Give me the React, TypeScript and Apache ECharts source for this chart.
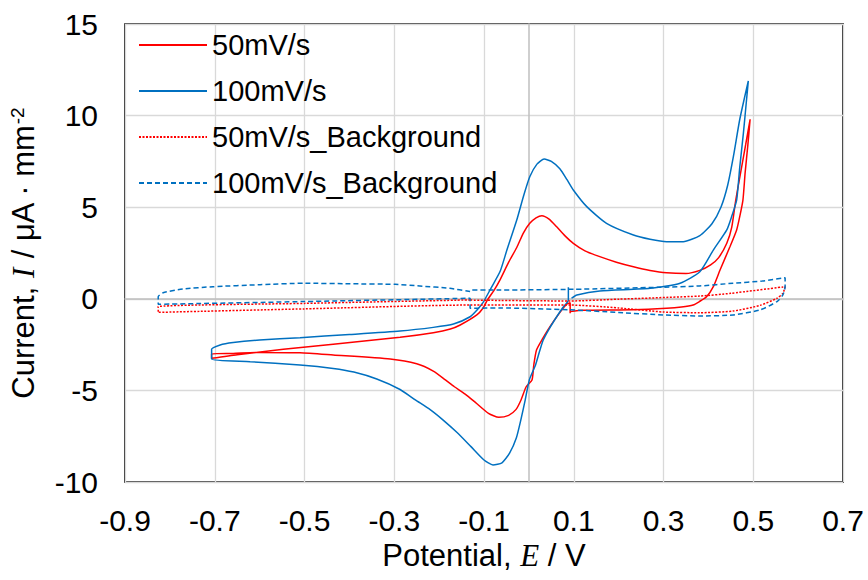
import React, { useEffect, useRef } from "react";
import * as echarts from "echarts";

const X_MIN = -0.9;
const X_MAX = 0.7;
const X_STEP = 0.2;
const Y_MIN = -10;
const Y_MAX = 15;
const Y_STEP = 5;

const seriesNames = ["50mV/s", "100mV/s", "50mV/s_Background", "100mV/s_Background"];

// 50 mV/s CV (potential V, current µA/mm²)
const cv50: [number, number][] = [
  [0.092, -0.79], [0.092, -0.22], [0.084, -0.3], [0.066, -0.85], [0.047, -1.52], [0.03, -2.2],
  [0.017, -2.79], [0.011, -3.6], [0.007, -4.43], [-0.006, -4.8], [-0.018, -5.55], [-0.029, -6.05],
  [-0.045, -6.36], [-0.067, -6.47], [-0.09, -6.25], [-0.117, -5.7], [-0.142, -5.2], [-0.166, -4.8],
  [-0.186, -4.43], [-0.213, -3.95], [-0.25, -3.55], [-0.309, -3.29], [-0.436, -3.07], [-0.51, -2.95],
  [-0.6, -2.93], [-0.659, -2.98], [-0.707, -3.01], [-0.707, -3.25], [-0.65, -3.05], [-0.547, -2.76],
  [-0.436, -2.48], [-0.287, -2.1], [-0.213, -1.85], [-0.175, -1.65], [-0.153, -1.43], [-0.116, -0.88],
  [-0.102, -0.5], [-0.092, -0.05], [-0.078, 0.45], [-0.064, 1.05], [-0.045, 2.0], [-0.027, 2.8],
  [-0.012, 3.6], [0.002, 4.12], [0.016, 4.42], [0.029, 4.54], [0.045, 4.35], [0.062, 3.93],
  [0.08, 3.45], [0.099, 3.03], [0.125, 2.62], [0.158, 2.3], [0.195, 2.0], [0.233, 1.75],
  [0.27, 1.55], [0.307, 1.42], [0.35, 1.38], [0.381, 1.55], [0.405, 1.85], [0.423, 2.25],
  [0.441, 3.03], [0.452, 3.9], [0.461, 5.39], [0.472, 6.9], [0.483, 8.4], [0.493, 9.8],
  [0.488, 8.4], [0.482, 6.9], [0.477, 5.39], [0.47, 4.5], [0.463, 3.76], [0.448, 2.84],
  [0.426, 1.57], [0.411, 0.66], [0.396, 0.11], [0.38, -0.15], [0.366, -0.34], [0.34, -0.45],
  [0.307, -0.52], [0.233, -0.6], [0.121, -0.63], [0.092, -0.7],
];

// 100 mV/s CV
const cv100: [number, number][] = [
  [0.088, 0.63], [0.088, -0.06], [0.075, -0.5], [0.062, -0.98], [0.045, -1.65], [0.032, -2.25],
  [0.024, -2.85], [0.015, -3.6], [0.001, -4.43], [-0.008, -5.5], [-0.018, -6.62], [-0.028, -7.6],
  [-0.043, -8.43], [-0.06, -8.95], [-0.08, -9.07], [-0.1, -8.8], [-0.129, -8.07], [-0.16, -7.3],
  [-0.191, -6.62], [-0.22, -6.05], [-0.253, -5.52], [-0.287, -4.95], [-0.339, -4.38],
  [-0.39, -4.0], [-0.436, -3.8], [-0.51, -3.61], [-0.621, -3.43], [-0.707, -3.29], [-0.707, -2.76],
  [-0.688, -2.52], [-0.659, -2.39], [-0.6, -2.25], [-0.51, -2.12], [-0.4, -1.95], [-0.287, -1.76],
  [-0.213, -1.56], [-0.168, -1.38], [-0.131, -0.98], [-0.115, -0.6], [-0.102, -0.2], [-0.084, 0.6],
  [-0.064, 1.5], [-0.049, 2.66], [-0.027, 4.3], [-0.012, 5.6], [0.002, 6.66], [0.018, 7.35],
  [0.034, 7.63], [0.05, 7.5], [0.069, 7.1], [0.085, 6.5], [0.099, 5.94], [0.129, 5.03],
  [0.173, 4.12], [0.233, 3.48], [0.27, 3.25], [0.307, 3.12], [0.344, 3.12], [0.381, 3.45],
  [0.408, 4.1], [0.428, 5.0], [0.443, 6.2], [0.456, 7.8], [0.47, 9.8], [0.489, 11.89],
  [0.485, 10.85], [0.478, 9.03], [0.47, 7.2], [0.463, 5.39], [0.452, 4.5], [0.441, 3.76],
  [0.411, 2.66], [0.381, 1.48], [0.337, 0.85], [0.27, 0.57], [0.158, 0.43], [0.107, 0.21],
  [0.095, 0.03],
];

// 50 mV/s background
const bg50: [number, number][] = [
  [-0.131, -0.06], [-0.5, -0.25], [-0.826, -0.43], [-0.826, -0.74], [-0.5, -0.55], [-0.131, -0.34],
  [0.092, -0.34], [0.2, -0.5], [0.299, -0.72], [0.38, -0.76], [0.455, -0.67], [0.515, -0.36],
  [0.553, 0.03], [0.566, 0.3], [0.571, 0.66], [0.45, 0.3], [0.381, 0.15], [0.2, -0.02],
  [0.092, -0.12], [-0.064, -0.09], [-0.131, -0.07],
];

// 100 mV/s background
const bg100: [number, number][] = [
  [-0.131, 0.4], [-0.176, 0.57], [-0.243, 0.7], [-0.298, 0.79], [-0.399, 0.82], [-0.499, 0.85],
  [-0.599, 0.77], [-0.704, 0.66], [-0.771, 0.53], [-0.815, 0.33], [-0.826, 0.11], [-0.826, -0.3],
  [-0.5, -0.15], [-0.131, 0.03], [-0.131, -0.52], [-0.064, -0.5], [0.092, -0.6], [0.2, -0.75],
  [0.299, -0.88], [0.381, -0.94], [0.455, -0.88], [0.515, -0.61], [0.553, -0.15], [0.566, 0.21],
  [0.571, 0.66], [0.571, 1.15], [0.52, 0.97], [0.455, 0.85], [0.38, 0.7], [0.292, 0.63],
  [0.1, 0.52], [-0.064, 0.48], [-0.131, 0.48],
];

const RED = "#FF0000";
const BLUE = "#0070C0";
const SANS = "'Liberation Sans', Arial, sans-serif";
const SERIF = "'Liberation Serif', 'Times New Roman', serif";

export default function App() {
  const ref = useRef<HTMLDivElement>(null);
  useEffect(() => {
    if (!ref.current) return;
    const chart = echarts.init(ref.current, undefined, { renderer: "svg" });
    const gridLine = { show: true, lineStyle: { color: "#d9d9d9", width: 1.3 } };
    chart.setOption({
      animation: false,
      backgroundColor: "#fff",
      grid: {
        left: 125, right: 25, top: 24, bottom: 98,
        show: true, borderColor: "#000", borderWidth: 1.6, backgroundColor: "transparent",
      },
      legend: {
        orient: "vertical", left: 138, top: 22, padding: 0, itemGap: 0,
        itemWidth: 68, itemHeight: 14, data: seriesNames,
        itemStyle: { color: "rgba(0,0,0,0)", borderWidth: 0, borderColor: "rgba(0,0,0,0)" },
        textStyle: { fontSize: 29, fontFamily: SANS, color: "#000", lineHeight: 46 },
      },
      xAxis: [
        {
          type: "value", min: X_MIN, max: X_MAX, interval: X_STEP,
          axisLine: { show: false, onZero: false }, axisTick: { show: false },
          splitLine: gridLine,
          axisLabel: { fontSize: 30, fontFamily: SANS, color: "#000", margin: 23,
            formatter: (v: number) => v.toFixed(1) },
          name: "{t|Potential, }{i|E}{t| / V}", nameLocation: "middle", nameGap: 58,
          nameTextStyle: { rich: {
            t: { fontSize: 31, fontFamily: SANS, color: "#000" },
            i: { fontSize: 31, fontFamily: SERIF, fontStyle: "italic", color: "#000" },
          } },
        },
        {
          type: "value", min: X_MIN, max: X_MAX,
          axisLine: { show: true, onZero: true, onZeroAxisIndex: 0, lineStyle: { color: "#bfbfbf", width: 1.5 } },
          axisTick: { show: false }, axisLabel: { show: false }, splitLine: { show: false },
        },
      ],
      yAxis: [
        {
          type: "value", min: Y_MIN, max: Y_MAX, interval: Y_STEP,
          axisLine: { show: false, onZero: false }, axisTick: { show: false },
          splitLine: gridLine,
          axisLabel: { fontSize: 30, fontFamily: SANS, color: "#000", margin: 27 },
          name: "{t|Current, }{i|I}{t| / μA · mm}{s|-2}", nameLocation: "middle", nameGap: 86,
          nameTextStyle: { rich: {
            t: { fontSize: 31, fontFamily: SANS, color: "#000" },
            i: { fontSize: 31, fontFamily: SERIF, fontStyle: "italic", color: "#000" },
            s: { fontSize: 19, fontFamily: SANS, color: "#000", verticalAlign: "top" },
          } },
        },
        {
          type: "value", min: Y_MIN, max: Y_MAX,
          axisLine: { show: true, onZero: true, onZeroAxisIndex: 0, lineStyle: { color: "#bfbfbf", width: 1.5 } },
          axisTick: { show: false }, axisLabel: { show: false }, splitLine: { show: false },
        },
      ],
      series: [
        { name: seriesNames[0], type: "line", data: cv50, symbol: "none", smooth: 0.2,
          lineStyle: { color: RED, width: 1.5 }, itemStyle: { color: RED } },
        { name: seriesNames[1], type: "line", data: cv100, symbol: "none", smooth: 0.2,
          lineStyle: { color: BLUE, width: 1.5 }, itemStyle: { color: BLUE } },
        { name: seriesNames[2], type: "line", data: bg50, symbol: "none", smooth: 0.2,
          lineStyle: { color: RED, width: 1.5, type: [2, 1.5] }, itemStyle: { color: RED } },
        { name: seriesNames[3], type: "line", data: bg100, symbol: "none", smooth: 0.2,
          lineStyle: { color: BLUE, width: 1.5, type: [5, 3] }, itemStyle: { color: BLUE } },
      ],
    });
    return () => chart.dispose();
  }, []);
  return (
    <div ref={ref} style={{ position: "fixed", left: 0, top: 0, width: 868, height: 580 }} />
  );
}
